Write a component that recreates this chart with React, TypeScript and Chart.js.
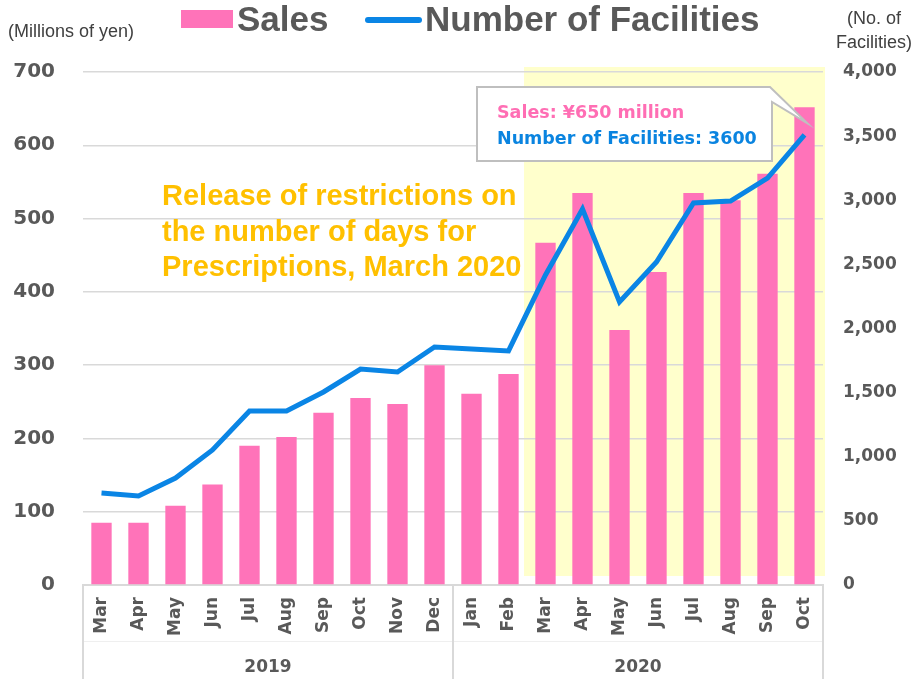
import React, { useEffect, useRef } from "react";
import { Chart, registerables } from "chart.js";

Chart.register(...registerables);

const months = ["Mar", "Apr", "May", "Jun", "Jul", "Aug", "Sep", "Oct", "Nov", "Dec", "Jan", "Feb", "Mar", "Apr", "May", "Jun", "Jul", "Aug", "Sep", "Oct"];
const years = ["2019", "2020"];
const yearCounts = [10, 10];
const sales = [85, 85, 108, 137, 190, 202, 235, 255, 247, 300, 261, 288, 467, 535, 348, 427, 535, 525, 561, 652];
const facilities = [717, 694, 834, 1053, 1357, 1357, 1505, 1684, 1661, 1856, 1840, 1825, 2417, 2932, 2207, 2518, 2979, 2994, 3173, 3509];
const highlightStartIndex = 12;
const annotationLines = ["Release of restrictions on", "the number of days for", "Prescriptions, March 2020"];
const calloutLines = ["Sales: ¥650 million", "Number of Facilities: 3600"];

const PINK = "#FF73B9";
const BLUE = "#0A85E5";
const GRAY = "#595959";
const GRID = "#d9d9d9";

const decorPlugin = {
  id: "decor",
  beforeDraw(chart: any) {
    const { ctx, chartArea, scales } = chart;
    const x = scales.x;
    const y = scales.y;
    const left = x.getPixelForValue(highlightStartIndex - 0.5) - 3;
    const right = chartArea.right + 2;
    const top = y.getPixelForValue(700) - 5;
    const bottom = y.getPixelForValue(0) - 9;
    ctx.save();
    ctx.fillStyle = "#FFFFCC";
    ctx.fillRect(left, top, right - left, bottom - top);
    ctx.restore();
  },
  afterDraw(chart: any) {
    const { ctx, chartArea, scales } = chart;
    const x = scales.x;
    const y = scales.y;
    ctx.save();

    // Legend
    ctx.fillStyle = PINK;
    ctx.fillRect(181, 10, 52, 18);
    ctx.fillStyle = GRAY;
    ctx.font = "bold 35px 'Liberation Sans', Arial, sans-serif";
    ctx.textBaseline = "alphabetic";
    ctx.textAlign = "left";
    ctx.fillText("Sales", 237, 31);
    ctx.strokeStyle = BLUE;
    ctx.lineWidth = 6;
    ctx.lineCap = "round";
    ctx.beginPath();
    ctx.moveTo(368, 20);
    ctx.lineTo(419, 20);
    ctx.stroke();
    ctx.fillText("Number of Facilities", 425, 31);

    // Axis titles
    ctx.font = "18px 'Liberation Sans', Arial, sans-serif";
    ctx.fillStyle = "#404040";
    ctx.fillText("(Millions of yen)", 8, 37);
    ctx.textAlign = "center";
    ctx.fillText("(No. of", 874, 24);
    ctx.fillText("Facilities)", 874, 48);

    // Annotation
    ctx.textAlign = "left";
    ctx.fillStyle = "#FFC000";
    ctx.font = "bold 29px 'Liberation Sans', Arial, sans-serif";
    annotationLines.forEach((l, i) => ctx.fillText(l, 162, 205 + i * 35.5));

    // Callout box
    const tipX = x.getPixelForValue(months.length - 1) + 3;
    const tipY = y.getPixelForValue(630);
    ctx.beginPath();
    ctx.moveTo(477, 87);
    ctx.lineTo(770, 87);
    ctx.lineTo(tipX, tipY);
    ctx.lineTo(772, 102);
    ctx.lineTo(772, 161);
    ctx.lineTo(477, 161);
    ctx.closePath();
    ctx.fillStyle = "#ffffff";
    ctx.fill();
    ctx.lineWidth = 2;
    ctx.lineCap = "butt";
    ctx.lineJoin = "miter";
    ctx.strokeStyle = "#bfbfbf";
    ctx.stroke();
    ctx.font = "bold 17.5px 'DejaVu Sans', Verdana, sans-serif";
    ctx.fillStyle = "#FF6EB4";
    ctx.fillText(calloutLines[0], 497, 118);
    ctx.fillStyle = "#0A84E0";
    ctx.fillText(calloutLines[1], 497, 144);

    // Year groups on category axis
    const base = chartArea.bottom;
    const h = chart.height;
    ctx.strokeStyle = "#efefef";
    ctx.lineWidth = 1;
    ctx.beginPath();
    ctx.moveTo(chartArea.left, 641.5);
    ctx.lineTo(chartArea.right, 641.5);
    ctx.stroke();
    const bounds: number[] = [chartArea.left];
    let idx = 0;
    yearCounts.forEach((c, i) => {
      idx += c;
      if (i < yearCounts.length - 1) {
        bounds.push((x.getPixelForValue(idx - 1) + x.getPixelForValue(idx)) / 2);
      }
    });
    bounds.push(chartArea.right);
    ctx.strokeStyle = GRID;
    ctx.lineWidth = 2;
    bounds.forEach((b) => {
      ctx.beginPath();
      ctx.moveTo(b, base);
      ctx.lineTo(b, h);
      ctx.stroke();
    });
    ctx.fillStyle = GRAY;
    ctx.font = "bold 17px 'DejaVu Sans', Verdana, sans-serif";
    ctx.textAlign = "center";
    ctx.textBaseline = "middle";
    years.forEach((yr, i) => {
      ctx.fillText(yr, (bounds[i] + bounds[i + 1]) / 2, 668);
    });
    ctx.restore();
  },
};

export default function App() {
  const ref = useRef<HTMLCanvasElement>(null);
  useEffect(() => {
    const canvas = ref.current;
    if (!canvas) return;
    const chart = new Chart(canvas, {
      type: "bar",
      data: {
        labels: months,
        datasets: [
          {
            type: "line",
            label: "Number of Facilities",
            data: facilities,
            yAxisID: "y1",
            borderColor: BLUE,
            backgroundColor: BLUE,
            borderWidth: 5,
            pointRadius: 0,
            tension: 0,
            order: 0,
          } as any,
          {
            type: "bar",
            label: "Sales",
            data: sales,
            yAxisID: "y",
            backgroundColor: PINK,
            categoryPercentage: 1,
            barPercentage: 0.55,
            order: 1,
          },
        ],
      },
      options: {
        responsive: false,
        animation: false,
        layout: { padding: { top: 72, left: 0, right: 0, bottom: 0 } },
        plugins: { legend: { display: false }, tooltip: { enabled: false } },
        scales: {
          x: {
            grid: { display: false, drawTicks: false, tickLength: 0 },
            border: { display: true, color: GRID, width: 2 },
            ticks: {
              minRotation: 90,
              maxRotation: 90,
              autoSkip: false,
              padding: 12,
              color: GRAY,
              font: { family: "'DejaVu Sans', Verdana, sans-serif", weight: "bold", size: 17 },
            },
            afterFit: (s: any) => {
              s.height = 94;
            },
          },
          y: {
            position: "left",
            min: 0,
            max: 700,
            grid: { color: GRID, lineWidth: 1.5, drawTicks: false, tickLength: 0 },
            border: { display: false },
            ticks: {
              stepSize: 100,
              padding: 28,
              color: GRAY,
              font: { family: "'DejaVu Sans', Verdana, sans-serif", weight: "bold", size: 20 },
            },
            afterFit: (s: any) => {
              s.width = 83;
            },
          },
          y1: {
            position: "right",
            min: 0,
            max: 4000,
            grid: { display: false, drawTicks: false, tickLength: 0 },
            border: { display: false },
            ticks: {
              stepSize: 500,
              padding: 20,
              color: GRAY,
              font: { family: "'DejaVu Sans', Verdana, sans-serif", weight: "bold", size: 17 },
              callback: (v: any) => Number(v).toLocaleString("en-US"),
            },
            afterFit: (s: any) => {
              s.width = 91;
            },
          },
        },
      } as any,
      plugins: [decorPlugin],
    });
    return () => chart.destroy();
  }, []);
  return (
    <div style={{ position: "absolute", left: 0, top: 0, width: 914, height: 679, background: "#fff" }}>
      <canvas ref={ref} width={914} height={679} style={{ display: "block" }} />
    </div>
  );
}
